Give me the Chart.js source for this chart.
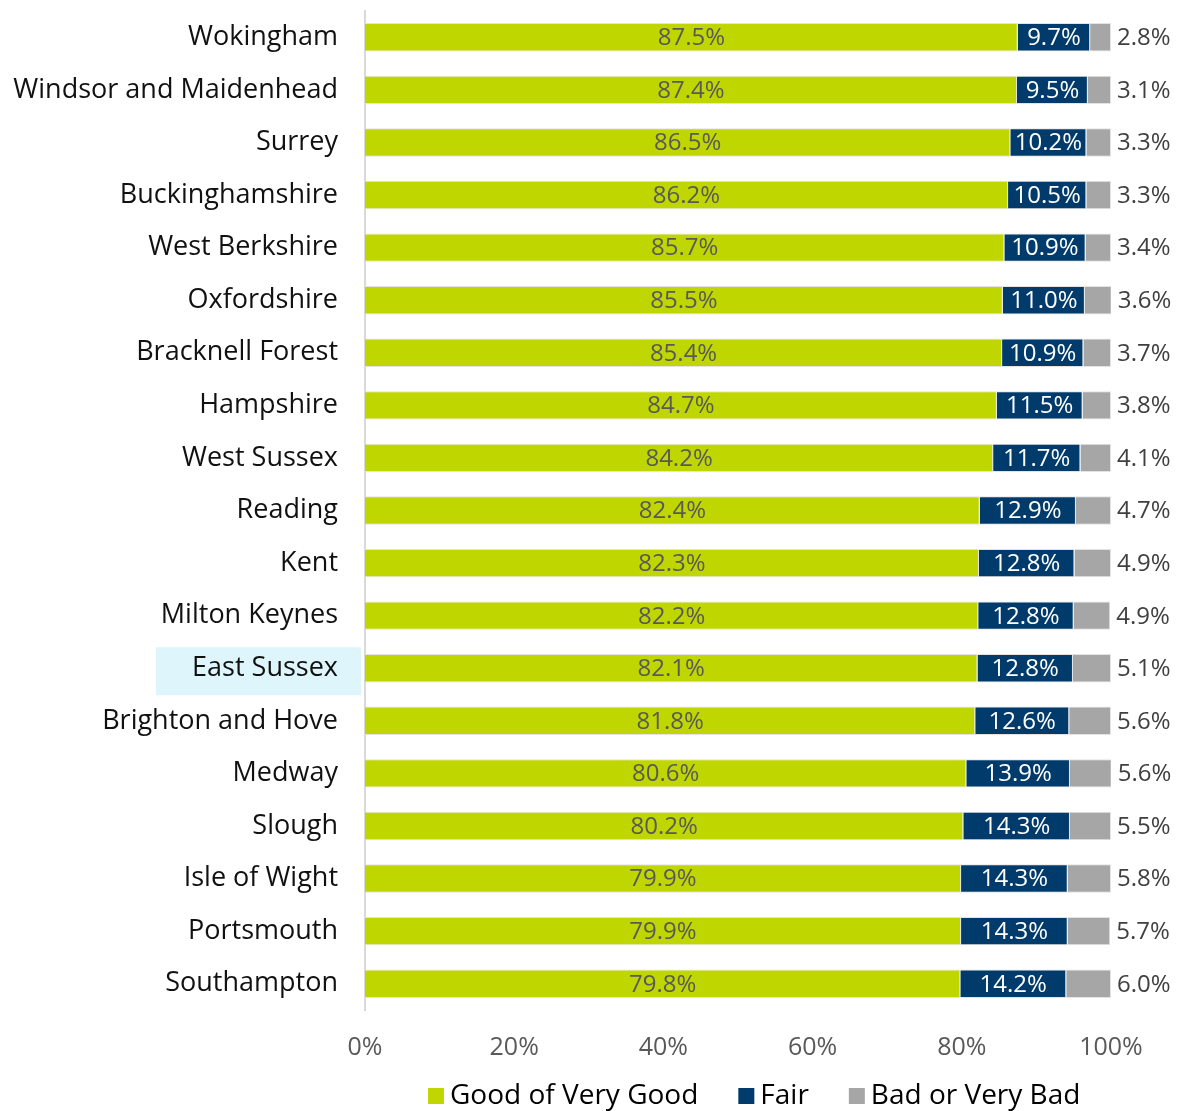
<!DOCTYPE html>
<html>
<head>
<meta charset="utf-8">
<script src="https://cdn.jsdelivr.net/npm/chart.js@4"></script>
<style>
  body { margin: 0; background: #fff; }
  #wrap { width: 1181px; height: 1111px; }
</style>
</head>
<body>
<div id="wrap"><canvas id="healthChart"></canvas></div>
<script>
const areas = ["Wokingham", "Windsor and Maidenhead", "Surrey", "Buckinghamshire",
  "West Berkshire", "Oxfordshire", "Bracknell Forest", "Hampshire", "West Sussex",
  "Reading", "Kent", "Milton Keynes", "East Sussex", "Brighton and Hove", "Medway",
  "Slough", "Isle of Wight", "Portsmouth", "Southampton"];
const goodValues = [87.5, 87.4, 86.5, 86.2, 85.7, 85.5, 85.4, 84.7, 84.2, 82.4, 82.3, 82.2, 82.1, 81.8, 80.6, 80.2, 79.9, 79.9, 79.8];
const fairValues = [9.7, 9.5, 10.2, 10.5, 10.9, 11.0, 10.9, 11.5, 11.7, 12.9, 12.8, 12.8, 12.8, 12.6, 13.9, 14.3, 14.3, 14.3, 14.2];
const badValues = [2.8, 3.1, 3.3, 3.3, 3.4, 3.6, 3.7, 3.8, 4.1, 4.7, 4.9, 4.9, 5.1, 5.6, 5.6, 5.5, 5.8, 5.7, 6.0];
const xTicks = [0, 20, 40, 60, 80, 100];
const highlightArea = "East Sussex";

const FONT = "'Open Sans', 'DejaVu Sans', sans-serif";

// light blue box behind the highlighted area's label
const highlightPlugin = {
  id: "highlight",
  beforeDraw(chart) {
    const ctx = chart.ctx;
    const y = chart.scales.y;
    const idx = areas.indexOf(highlightArea);
    const py = y.getPixelForValue(idx);
    ctx.save();
    ctx.fillStyle = "#def5fc";
    ctx.fillRect(156, py - 21, y.right - 156 - 4, 48);
    ctx.restore();
  },
};

// value labels on / after the bars
const labelPlugin = {
  id: "barLabels",
  afterDatasetsDraw(chart) {
    const ctx = chart.ctx;
    ctx.save();
    ctx.font = "24px " + FONT;
    ctx.textBaseline = "middle";
    chart.data.datasets.forEach((ds, di) => {
      const meta = chart.getDatasetMeta(di);
      meta.data.forEach((bar, i) => {
        const txt = ds.data[i].toFixed(1) + "%";
        if (di === 2) {
          ctx.fillStyle = "#404040";
          ctx.textAlign = "left";
          ctx.fillText(txt, bar.x + 6, bar.y + 1);
        } else {
          ctx.fillStyle = di === 0 ? "#595959" : "#ffffff";
          ctx.textAlign = "center";
          ctx.fillText(txt, (bar.x + bar.base) / 2, bar.y + 1);
        }
      });
    });
    ctx.restore();
  },
};

// legend row under the axis (built-in legend can't space it like the original)
const bottomLegend = {
  id: "bottomLegend",
  afterDraw(chart) {
    const ctx = chart.ctx;
    const y = 1096;
    let x = 428;
    ctx.save();
    ctx.font = "28px " + FONT;
    ctx.textBaseline = "middle";
    ctx.textAlign = "left";
    chart.data.datasets.forEach((ds) => {
      ctx.fillStyle = ds.backgroundColor;
      ctx.fillRect(x, y - 8, 16, 16);
      x += 22;
      ctx.fillStyle = "#000";
      ctx.fillText(ds.label, x, y);
      x += ctx.measureText(ds.label).width + 40;
    });
    ctx.restore();
  },
};

new Chart(document.getElementById("healthChart").getContext("2d"), {
  type: "bar",
  data: {
    labels: areas,
    datasets: [
      {
        label: "Good of Very Good",
        data: goodValues,
        backgroundColor: "#bfd600",
        borderColor: "#e3e3e3",
        borderWidth: 1,
      },
      {
        label: "Fair",
        data: fairValues,
        backgroundColor: "#003b6b",
        borderColor: "#e3e3e3",
        borderWidth: 1,
      },
      {
        label: "Bad or Very Bad",
        data: badValues,
        backgroundColor: "#a6a6a6",
        borderColor: "#e3e3e3",
        borderWidth: 1,
      },
    ],
  },
  plugins: [highlightPlugin, labelPlugin, bottomLegend],
  options: {
    indexAxis: "y",
    responsive: true,
    maintainAspectRatio: false,
    animation: false,
    barPercentage: 0.54,
    categoryPercentage: 1.0,
    layout: {
      padding: { top: 11, right: 70, left: 0, bottom: 0 },
    },
    plugins: {
      legend: { display: false },
      tooltip: { enabled: false },
    },
    scales: {
      x: {
        stacked: true,
        min: 0,
        max: 100,
        afterBuildTicks: (scale) => {
          scale.ticks = xTicks.map((v) => ({ value: v }));
        },
        afterFit: (scale) => {
          scale.height = 101;
        },
        ticks: {
          color: "#595959",
          font: { family: FONT, size: 25 },
          padding: 15,
          callback: function (value) {
            return value + "%";
          },
        },
        grid: { display: false },
        border: { display: false },
      },
      y: {
        stacked: true,
        afterFit: (scale) => {
          scale.width = 365;
          scale.paddingTop = 0;
          scale.paddingBottom = 0;
        },
        ticks: {
          color: "#111",
          font: { family: FONT, size: 27 },
          padding: 19,
        },
        grid: { display: false },
        border: { color: "#d9d9d9", width: 2 },
      },
    },
  },
});
</script>
</body>
</html>
